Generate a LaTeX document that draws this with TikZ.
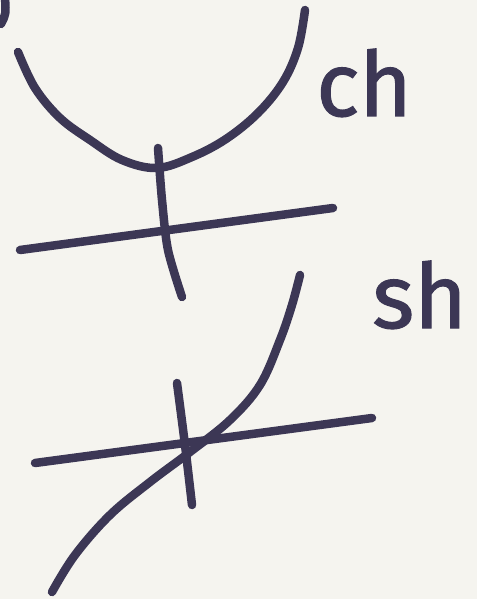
\documentclass[tikz,border=0pt]{standalone}
\usepackage{fontspec}
\newfontfamily\handfont[FakeBold=1.2]{Fira Sans}
\definecolor{ink}{HTML}{3C3755}
\definecolor{paper}{HTML}{F5F4EF}
\begin{document}
\begin{tikzpicture}[x=1pt,y=-1pt,
  pen/.style={draw=ink,line width=8.5pt,line cap=round,line join=round},
  lbl/.style={text=ink,font=\handfont\fontsize{90}{90}\selectfont,inner sep=0pt,anchor=base west}]
\fill[paper] (0,0) rectangle (477,599);
\useasboundingbox (0,0) rectangle (477,599);
% cosh
\coordinate (c0) at (18,52);
\coordinate (c1) at (305,10);
\draw[pen] plot[smooth,tension=0.6] coordinates {(c0) (35,88) (60,118) (90,140) (122,160) (157,168) (192,157) (226,139) (258,113) (283,82) (298,48) (c1)};
\coordinate (v1a) at (158,148);
\coordinate (v1b) at (182,297);
\draw[pen] plot[smooth] coordinates {(v1a) (162,200) (168,250) (v1b)};
\coordinate (h1a) at (20,250);
\coordinate (h1b) at (333,208);
\draw[pen] (h1a) -- (h1b);
\node[lbl] (ch) at (316,116) {ch};
% sinh
\coordinate (s0) at (52,592);
\coordinate (s1) at (300,275);
\draw[pen] plot[smooth,tension=0.6] coordinates {(s0) (75,555) (110,515) (150,482) (190,452) (230,420) (260,385) (280,340) (292,305) (s1)};
\coordinate (v2a) at (177,383);
\coordinate (v2b) at (192,505);
\draw[pen] plot[smooth] coordinates {(v2a) (185,445) (v2b)};
\coordinate (h2a) at (35,463);
\coordinate (h2b) at (372,418);
\draw[pen] (h2a) -- (h2b);
\node[lbl] (sh) at (372,328) {sh};
% corner fragment
\draw[pen] (1,24) .. controls (6,14) .. (5,-2);
\end{tikzpicture}
\end{document}
